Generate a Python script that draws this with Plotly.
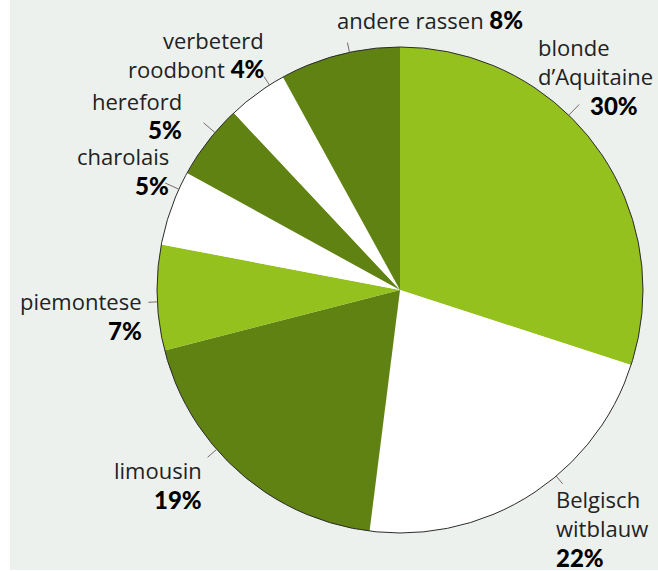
import math
import plotly.graph_objects as go

# ---------------- data ----------------
breeds = ["blonde d’Aquitaine", "Belgisch witblauw", "limousin", "piemontese",
          "charolais", "hereford", "verbeterd roodbont", "andere rassen"]
shares = [30, 22, 19, 7, 5, 5, 4, 8]
label_lines = [["blonde", "d’Aquitaine"], ["Belgisch", "witblauw"], ["limousin"],
               ["piemontese"], ["charolais"], ["hereford"], ["verbeterd", "roodbont"],
               ["andere rassen"]]
pct_inline = [False, False, False, False, False, False, True, True]

# ---------------- style / layout ----------------
W, H = 658, 571
BRIGHT, DARK, WHITE = "#95c11f", "#5f8212", "#ffffff"
slice_colors = [BRIGHT, WHITE, DARK, BRIGHT, WHITE, DARK, WHITE, DARK]
BG = "#edf1ee"
CX, CY, R = 400, 290, 243
FONT = "Open Sans"
FS = 22
PCT_FONT = "Lato"
PCT_FS = 24
LH = 29

# label anchors (pixel): x edge, y of first line center, alignment
label_pos = [
    (536, 47, "left"), (554, 499, "left"), (204, 470, "right"), (144, 301, "right"),
    (171, 156, "right"), (184, 101, "right"), (266, 40, "right"), (525, 20, "right"),
]
pct_x_override = {0: (588, "left")}
tick_shift = [-10, -7.6, 7.6, -1, 4.7, 2.6, 3.5, 2.4]
tick_len = [15, 10, 12, 9, 15, 15, 10, 10]


def px(x):
    return x / W


def py(y):
    return 1 - y / H


fig = go.Figure(go.Pie(
    labels=breeds, values=shares, sort=False, direction="clockwise", rotation=0,
    marker=dict(colors=slice_colors, line=dict(width=0)),
    textinfo="none", hoverinfo="label+percent", showlegend=False,
    domain=dict(x=[px(CX - R), px(CX + R)], y=[py(CY + R), py(CY - R)]),
))

shapes = [
    dict(type="rect", xref="paper", yref="paper", x0=px(10), x1=1, y0=py(570), y1=1,
         fillcolor=BG, line=dict(width=0), layer="below"),
    dict(type="circle", xref="paper", yref="paper", x0=px(CX - R), x1=px(CX + R),
         y0=py(CY + R), y1=py(CY - R), line=dict(color="#2b2b2b", width=1)),
]

annotations = []
total = sum(shares)
cum = 0
for i, (lines, v) in enumerate(zip(label_lines, shares)):
    mid = (cum + v / 2) / total * 360 + tick_shift[i]
    cum += v
    a = math.radians(mid)
    x0 = CX + R * math.sin(a)
    y0 = CY - R * math.cos(a)
    x1 = CX + (R + tick_len[i]) * math.sin(a)
    y1 = CY - (R + tick_len[i]) * math.cos(a)
    shapes.append(dict(type="line", xref="paper", yref="paper", x0=px(x0), y0=py(y0),
                       x1=px(x1), y1=py(y1), line=dict(color="#7a6a6a", width=1)))

    lx, ly, al = label_pos[i]
    pct = (f"<span style='font-family:{PCT_FONT};font-weight:900;"
           f"font-size:{PCT_FS}px;fill:#000'>{v}%</span>")
    texts = list(lines)
    if pct_inline[i]:
        texts[-1] = texts[-1] + " " + pct
    else:
        texts.append(pct)
    for j, t in enumerate(texts):
        x, anch = lx, al
        if j == len(texts) - 1 and not pct_inline[i] and i in pct_x_override:
            x, anch = pct_x_override[i]
        annotations.append(dict(
            x=px(x), y=py(ly + j * LH), xref="paper", yref="paper",
            xanchor=anch, yanchor="middle", showarrow=False, text=t,
            font=dict(family=FONT, size=FS, color="#222222")))

fig.update_layout(
    width=W, height=H, margin=dict(l=0, r=0, t=0, b=0),
    paper_bgcolor="#ffffff", plot_bgcolor="#ffffff",
    shapes=shapes, annotations=annotations,
)

fig.write_html("out.html", config={"displayModeBar": False},
               post_script="document.body.style.margin='0';")
